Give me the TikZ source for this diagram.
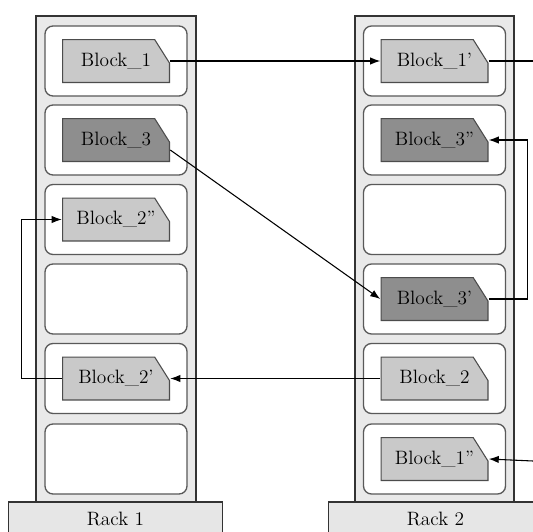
\documentclass[tikz,border=0pt]{standalone}
\usetikzlibrary{arrows.meta}
\definecolor{rackgray}{RGB}{233,233,233}
\definecolor{basegray}{RGB}{230,230,230}
\definecolor{blocklight}{RGB}{201,201,201}
\definecolor{blockdark}{RGB}{142,142,142}

\tikzset{
  rack/.style={draw=black!80, fill=rackgray, line width=0.8pt},
  rackbase/.style={rack, fill=basegray, minimum width=160pt, minimum height=25.5pt,
    inner sep=0pt, font=\fontsize{14.5}{16}\selectfont},
  slot/.style={draw=black!65, fill=white, rounded corners=6pt, line width=1pt,
    minimum width=106.5pt, minimum height=52.5pt},
  blk/.style={rectangle, minimum width=81pt, minimum height=33pt, inner sep=0pt,
    font=\fontsize{14.5}{16}\selectfont,
    path picture={
      \path[fill=#1, draw=black!70, line width=0.8pt]
        ([shift={(0.4pt,0.4pt)}]path picture bounding box.south west)
        -- ([shift={(0.4pt,-0.4pt)}]path picture bounding box.north west)
        -- ([shift={(-11.5pt,-0.4pt)}]path picture bounding box.north east)
        -- ([shift={(-0.4pt,-18pt)}]path picture bounding box.north east)
        -- ([shift={(-0.4pt,0.4pt)}]path picture bounding box.south east)
        -- cycle;}},
  blk/.default=blocklight,
  dblk/.style={blk=blockdark},
  link/.style={line width=0.8pt},
  arr/.style={link, -{Latex[length=7.5pt,width=5.5pt]}}
}

\begin{document}
\begin{tikzpicture}[x=0.75pt,y=-0.75pt]
\useasboundingbox (0,0) rectangle (533,532);

% racks
\draw[rack] (36,16) rectangle (196,502);
\draw[rack] (355,16) rectangle (514,502);
\node[rackbase] (rack1) at (115.5,519) {Rack 1};
\node[rackbase] (rack2) at (435.5,519) {Rack 2};

% slots of rack 1
\node[slot] (r1s1) at (116,61) {};
\node[slot] (r1s2) at (116,140) {};
\node[slot] (r1s3) at (116,219.5) {};
\node[slot] (r1s4) at (116,299) {};
\node[slot] (r1s5) at (116,378.5) {};
\node[slot] (r1s6) at (116,459) {};

% slots of rack 2
\node[slot] (r2s1) at (434.5,61) {};
\node[slot] (r2s2) at (434.5,140) {};
\node[slot] (r2s3) at (434.5,219.5) {};
\node[slot] (r2s4) at (434.5,299) {};
\node[slot] (r2s5) at (434.5,378.5) {};
\node[slot] (r2s6) at (434.5,459) {};

% blocks
\node[blk] (b1) at (r1s1) {Block\_1};
\node[dblk] (b3) at (r1s2) {Block\_3};
\node[blk] (b2pp) at (r1s3) {Block\_2''};
\node[blk] (b2p) at (r1s5) {Block\_2'};

\node[blk] (b1p) at (r2s1) {Block\_1'};
\node[dblk] (b3pp) at (r2s2) {Block\_3''};
\node[dblk] (b3p) at (r2s4) {Block\_3'};
\node[blk] (b2) at (r2s5) {Block\_2};
\node[blk] (b1pp) at (r2s6) {Block\_1''};

% free ends at the right edge
\coordinate (out1) at (533,61);
\coordinate (in1) at (533,461);

% connectors
\draw[arr] (b1.east) -- (b1p.west);
\draw[link] (b1p.east) -- (out1);
\draw[arr] ([yshift=-7.5pt]b3.east) -- (b3p.west);
\draw[arr] (b3p.east) -- ++(29pt,0) |- (b3pp.east);
\draw[arr] (b2.west) -- (b2p.east);
\draw[arr] (b2p.west) -- ++(-30pt,0) |- (b2pp.west);
\draw[arr] (in1) -- (b1pp.east);
\end{tikzpicture}
\end{document}
